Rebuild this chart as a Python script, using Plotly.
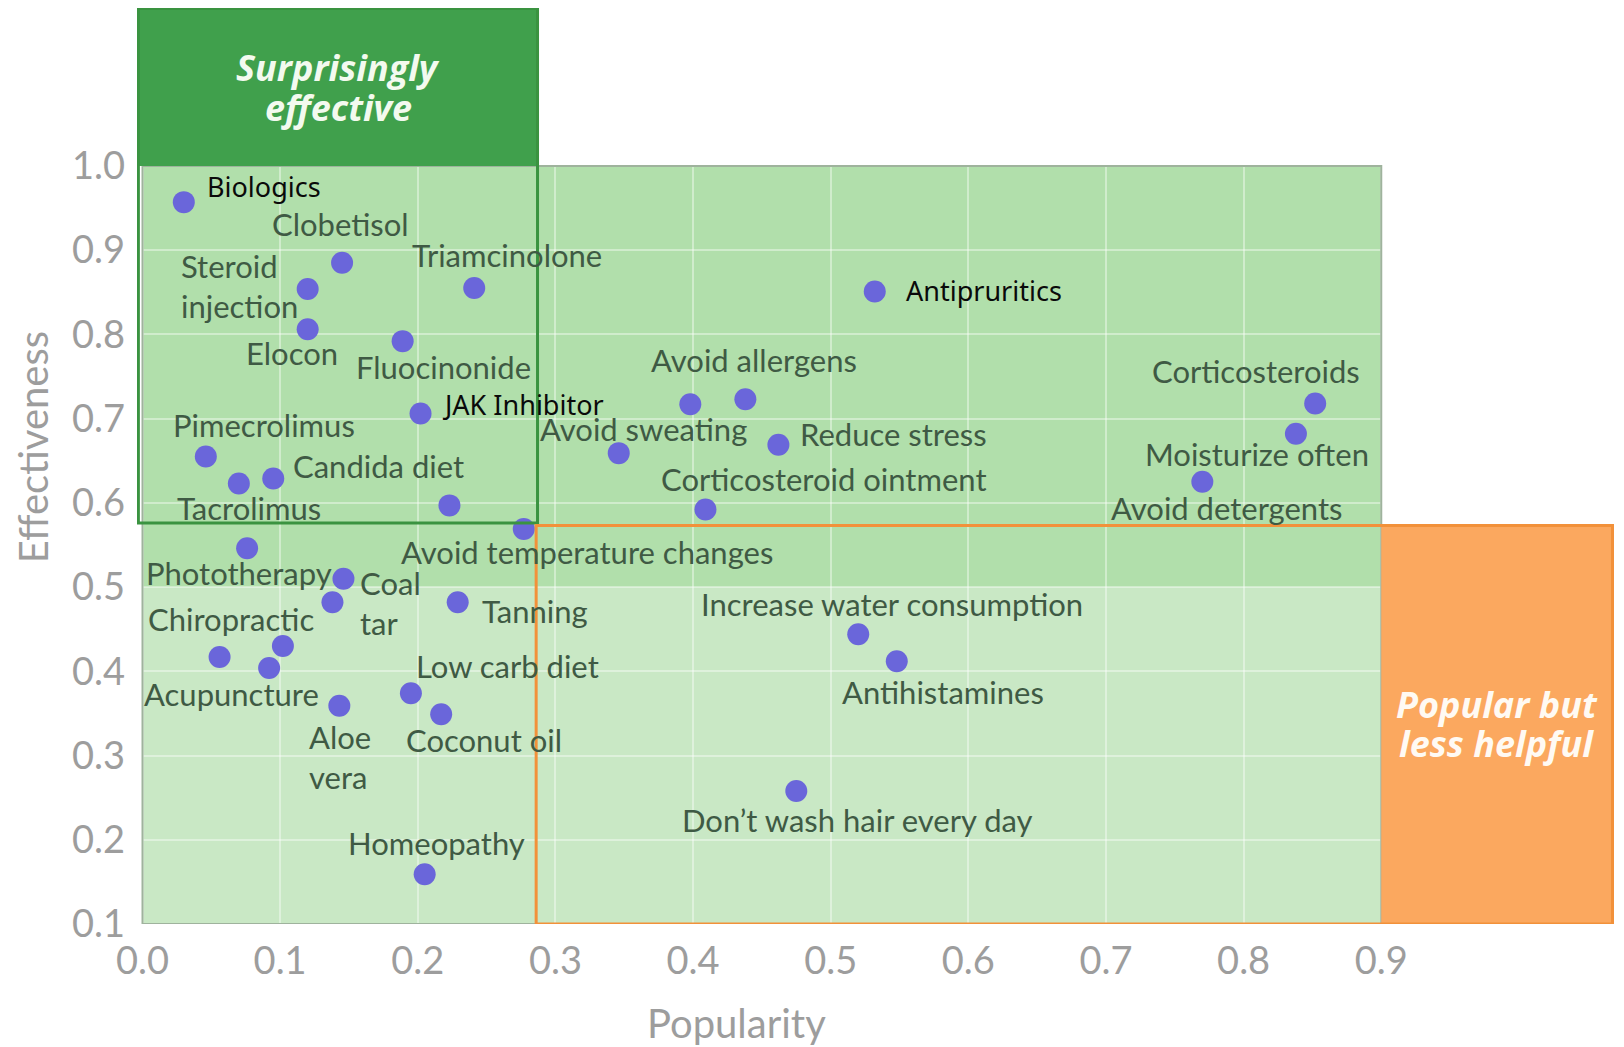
import plotly.graph_objects as go

# ---------------- data ----------------
names = [
    "Biologics", "Clobetisol", "Steroid injection", "Triamcinolone", "Elocon",
    "Fluocinonide", "JAK Inhibitor", "Pimecrolimus", "Tacrolimus", "Candida diet",
    "", "Avoid temperature changes", "Phototherapy", "Coal tar", "Chiropractic",
    "Tanning", "", "Acupuncture", "", "Low carb diet",
    "Aloe vera", "Coconut oil", "Homeopathy", "Avoid sweating", "",
    "Avoid allergens", "Reduce stress", "Corticosteroid ointment", "Antipruritics",
    "Increase water consumption", "Antihistamines", "Don’t wash hair every day",
    "Corticosteroids", "Moisturize often", "Avoid detergents",
]
popularity = [
    0.030, 0.145, 0.120, 0.241, 0.120,
    0.189, 0.202, 0.046, 0.070, 0.095,
    0.223, 0.277, 0.076, 0.146, 0.138,
    0.229, 0.102, 0.056, 0.092, 0.195,
    0.143, 0.217, 0.205, 0.346, 0.398,
    0.438, 0.462, 0.409, 0.532,
    0.520, 0.548, 0.475,
    0.852, 0.838, 0.770,
]
effectiveness = [
    0.957, 0.885, 0.854, 0.855, 0.806,
    0.792, 0.706, 0.655, 0.623, 0.629,
    0.597, 0.569, 0.546, 0.510, 0.482,
    0.482, 0.430, 0.417, 0.404, 0.374,
    0.359, 0.349, 0.159, 0.659, 0.717,
    0.723, 0.669, 0.592, 0.851,
    0.444, 0.412, 0.258,
    0.718, 0.682, 0.625,
]
x_ticks = [0.0, 0.1, 0.2, 0.3, 0.4, 0.5, 0.6, 0.7, 0.8, 0.9]
y_ticks = [0.1, 0.2, 0.3, 0.4, 0.5, 0.6, 0.7, 0.8, 0.9, 1.0]

x_title = "Popularity"
y_title = "Effectiveness"
quadrant_effective = ["Surprisingly", "effective"]
quadrant_popular = ["Popular but", "less helpful"]

# ---------------- label styling (anchor, xshift px, yshift px) ----------------
label_style = {
    "Biologics": ("left", 21, 16),
    "Clobetisol": ("center", -2, 39),
    "Steroid injection": ("right", -8, 3),
    "Triamcinolone": ("center", 33, 33),
    "Elocon": ("center", -16, -24),
    "Fluocinonide": ("center", 41, -26),
    "JAK Inhibitor": ("left", 19, 9),
    "Pimecrolimus": ("center", 58, 32),
    "Tacrolimus": ("center", 10, -25),
    "Candida diet": ("left", 18, 12),
    "Avoid temperature changes": ("center", 63, -23),
    "Phototherapy": ("center", -8, -25),
    "Coal tar": ("left", 15, -24),
    "Chiropractic": ("right", -16, -17),
    "Tanning": ("left", 22, -9),
    "Acupuncture": ("center", 12, -37),
    "Low carb diet": ("center", 97, 27),
    "Aloe vera": ("left", -32, -51),
    "Coconut oil": ("center", 43, -26),
    "Homeopathy": ("center", 12, 31),
    "Avoid sweating": ("center", 25, 24),
    "Avoid allergens": ("center", 9, 39),
    "Reduce stress": ("left", 20, 11),
    "Corticosteroid ointment": ("center", 119, 31),
    "Antipruritics": ("left", 29, 1),
    "Increase water consumption": ("center", 34, 30),
    "Antihistamines": ("center", 46, -31),
    "Don’t wash hair every day": ("center", 61, -29),
    "Corticosteroids": ("center", -59, 32),
    "Moisturize often": ("center", -39, -20),
    "Avoid detergents": ("center", 24, -26),
}
wrapped = {"Steroid injection": "Steroid<br>injection", "Coal tar": "Coal<br>tar", "Aloe vera": "Aloe<br>vera"}
black_labels = {"Biologics", "JAK Inhibitor", "Antipruritics"}

LABEL_FONT = "Lato, 'Open Sans', sans-serif"
BOLD_FONT = "'Open Sans', Lato, sans-serif"
GRAY = "#9d9d9d"

fig = go.Figure()
fig.add_trace(go.Scatter(
    x=popularity, y=effectiveness, mode="markers",
    marker=dict(size=22, color="#6a66da", line=dict(width=0)),
    text=names, hoverinfo="text", showlegend=False,
))

annotations = []
for n, px, py in zip(names, popularity, effectiveness):
    if not n:
        continue
    anchor, xs, ys = label_style[n]
    if n in black_labels:
        font = dict(family="'Noto Sans', 'Open Sans', sans-serif", size=27, color="#0a0a0a")
    else:
        font = dict(family=LABEL_FONT, size=31, color="#3f5a44")
    annotations.append(dict(
        x=px, y=py, xref="x", yref="y", text=wrapped.get(n, n), showarrow=False,
        xanchor=anchor, yanchor="middle", xshift=xs, yshift=ys, align="left", font=font,
    ))

quad_font_e = dict(family=BOLD_FONT, size=36, color="#f3faef", weight=700, style="italic")
quad_font_p = dict(family=BOLD_FONT, size=36, color="#fffaf3", weight=700, style="italic")
for line, yy in zip(quadrant_effective, [1.117, 1.0697]):
    annotations.append(dict(x=0.1423, y=yy, xref="x", yref="y", text=line, showarrow=False,
                            xanchor="center", yanchor="middle", font=quad_font_e))
for line, yy in zip(quadrant_popular, [0.361, 0.314]):
    annotations.append(dict(x=0.984, y=yy, xref="x", yref="y", text=line, showarrow=False,
                            xanchor="center", yanchor="middle", font=quad_font_p))

# axis titles
annotations.append(dict(x=0.4316, y=0, xref="x", yref="paper", yshift=-99, text=x_title,
                        showarrow=False, xanchor="center", yanchor="middle",
                        font=dict(family=LABEL_FONT, size=40, color=GRAY)))
annotations.append(dict(x=0, y=0.666, xref="paper", yref="y", xshift=-104, text=y_title,
                        textangle=-90, showarrow=False, xanchor="center", yanchor="middle",
                        font=dict(family=LABEL_FONT, size=40, color=GRAY)))

shapes = [
    # main plot background (two tones)
    dict(type="rect", xref="x", yref="y", x0=0, x1=0.9, y0=0.5, y1=1.0,
         fillcolor="#b1dfab", line=dict(width=0), layer="below"),
    dict(type="rect", xref="x", yref="y", x0=0, x1=0.9, y0=0.1, y1=0.5,
         fillcolor="#c9e8c5", line=dict(width=0), layer="below"),
    # thin frame
    dict(type="rect", xref="x", yref="y", x0=0, x1=0.9, y0=0.1, y1=1.0,
         fillcolor="rgba(0,0,0,0)", line=dict(width=2, color="#9fb39d"), layer="above"),
    # "Surprisingly effective" header box
    dict(type="rect", xref="x", yref="y", x0=-0.003, x1=0.287, y0=1.0, y1=1.1869,
         fillcolor="#40a04c", line=dict(width=0), layer="above"),
    dict(type="rect", xref="x", yref="y", x0=-0.003, x1=0.287, y0=0.576, y1=1.1869,
         fillcolor="rgba(0,0,0,0)", line=dict(width=3, color="#3a9340"), layer="above"),
    # "Popular but less helpful" box
    dict(type="rect", xref="x", yref="y", x0=0.9, x1=1.068, y0=0.1, y1=0.573,
         fillcolor="#fba85f", line=dict(width=0), layer="above"),
    dict(type="rect", xref="x", yref="y", x0=0.286, x1=1.068, y0=0.1, y1=0.573,
         fillcolor="rgba(0,0,0,0)", line=dict(width=3, color="#f2913a"), layer="above"),
]

fig.update_layout(
    width=1616, height=1039,
    margin=dict(l=129, r=6, t=0, b=123, autoexpand=False),
    paper_bgcolor="white", plot_bgcolor="white",
    font=dict(family=LABEL_FONT, color=GRAY),
    shapes=shapes, annotations=annotations, showlegend=False,
    xaxis=dict(
        range=[-0.004, 1.072], tickvals=x_ticks, ticktext=[f"{v:.1f}" for v in x_ticks],
        showgrid=True, gridcolor="rgba(255,255,255,0.4)", gridwidth=2, zeroline=False,
        showline=False, ticks="", ticklabelstandoff=11, automargin=False,
        tickfont=dict(family=LABEL_FONT, size=38, color=GRAY),
    ),
    yaxis=dict(
        range=[0.1, 1.1875], tickvals=y_ticks, ticktext=[f"{v:.1f}" for v in y_ticks],
        showgrid=True, gridcolor="rgba(255,255,255,0.4)", gridwidth=2, zeroline=False,
        showline=False, ticks="", ticklabelstandoff=11, automargin=False,
        tickfont=dict(family=LABEL_FONT, size=38, color=GRAY),
    ),
)

fig.write_html("out.html")
